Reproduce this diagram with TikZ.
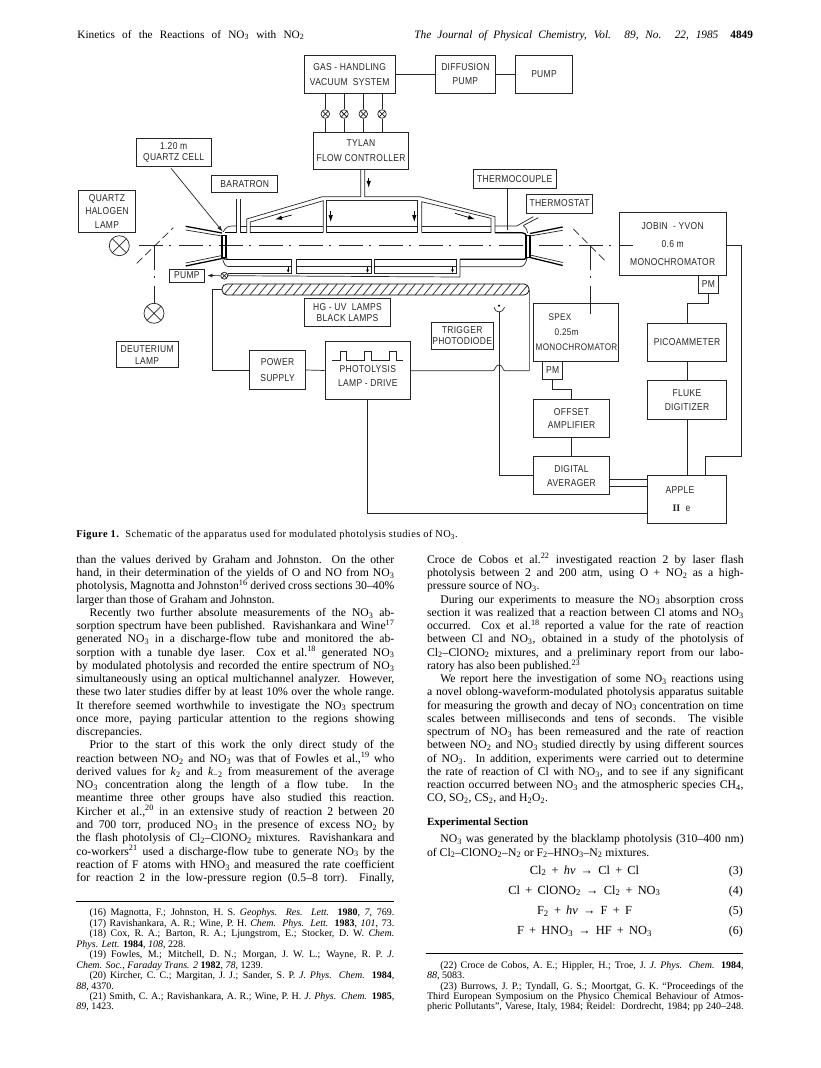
\documentclass[tikz,border=0pt]{standalone}
\usepackage{fontspec}
\setmainfont{Liberation Serif}
\newfontfamily\labelfont[FakeStretch=0.85,LetterSpace=3]{Liberation Sans}
\newfontfamily\capfont[LetterSpace=4]{Liberation Serif}
\RequirePackage{tikz}
\usetikzlibrary{calc,arrows,arrows.meta,positioning}

\newcommand{\bodyfont}{\fontsize{11.7}{13}\selectfont}
\newcommand{\reffont}{\fontsize{10}{10.4}\selectfont}
\newcommand{\headfont}{\fontsize{11.3}{12}\selectfont}
\newcommand{\sbs}[1]{\textsubscript{#1}}
\newcommand{\sps}[1]{\textsuperscript{#1}}
\newcommand{\JL}[1]{\makebox[318pt][s]{#1}}
\newcommand{\JR}[1]{\makebox[316.6pt][s]{#1}}
\newcommand{\ind}{\hspace*{13.3pt}}
\newcommand{\es}{\hspace{0.42em}}

\tikzset{
  labelbox/.style={draw=black!85,text=black!85,inner sep=0pt,align=center,line width=0.25mm,
    font=\labelfont\fontsize{10}{12}\selectfont},
  valve/.style={circle,draw=black!85,inner sep=0pt,line width=0.25mm,
    path picture={\draw (path picture bounding box.north west) -- (path picture bounding box.south east)
      (path picture bounding box.north east) -- (path picture bounding box.south west);}},
  axisline/.style={black!85,line width=0.25mm,dash pattern=on 24pt off 6pt on 2pt off 8pt},
  mirror/.style={black!85,line width=0.25mm,dash pattern=on 8pt off 4pt},
  wire/.style={black!85,line width=0.25mm},
  wallthin/.style={black!85,line width=0.25mm},
  wallthick/.style={black,line width=0.45mm},
  bodyline/.style={anchor=base west,inner sep=0pt,font=\bodyfont},
  refline/.style={anchor=base west,inner sep=0pt,font=\reffont},
  eqline/.style={anchor=base,inner sep=0pt,font=\fontsize{12.4}{13}\selectfont},
  eqnum/.style={anchor=base east,inner sep=0pt,font=\fontsize{12}{13}\selectfont},
}

\begin{document}
\begin{tikzpicture}[x=1pt,y=-1pt,>=latex,line width=0.25mm]
   \useasboundingbox (0,0) rectangle (820,1068);

   % running head
   \node[bodyline,font=\headfont] (headL) at (77,38) {\makebox[227pt][s]{Kinetics of the Reactions of NO\sbs{3} with NO\sbs{2}}};
   \node[bodyline,font=\headfont\itshape] (headR) at (414,38) {\makebox[304pt][s]{The Journal of Physical Chemistry, Vol. 89, No. 22, 1985}};
   \node[bodyline,font=\headfont\bfseries] (headP) at (730,38) {4849};

   % boxes, top
   \node[labelbox,minimum width=90.7,minimum height=38.3] (gas) at (349.65,74.15) {GAS - HANDLING\\[3pt]VACUUM\ \ SYSTEM};
   \node[labelbox,minimum width=60.7,minimum height=38.3] (diffusion) at (465.35,74.15) {DIFFUSION\\[2.3pt]PUMP};
   \node[labelbox,minimum width=56.6,minimum height=38.3] (pumptop) at (544,74.15) {PUMP};
   \node[labelbox,minimum width=95.4,minimum height=37.3] (tylan) at (361,150.65) {TYLAN\\[2.3pt]FLOW CONTROLLER};
   \node[labelbox,minimum width=75.3,minimum height=28.3] (cell) at (173.65,152.15) {1.20 m\\[-1pt]QUARTZ CELL};
   \node[labelbox,minimum width=66,minimum height=17.4] (baratron) at (244.7,184) {BARATRON};
   \node[labelbox,minimum width=57.4,minimum height=41.6] (halogen) at (107,211.5) {QUARTZ\\[1.3pt]HALOGEN\\[1.3pt]LAMP};
   \node[labelbox,minimum width=82.7,minimum height=19.7] (thermocouple) at (514.65,178.85) {THERMOCOUPLE};
   \node[labelbox,minimum width=66.4,minimum height=19] (thermostat) at (559.5,203.5) {THERMOSTAT};
   \node[labelbox,minimum width=107.3,minimum height=62.6] (jobin) at (672.65,244) {JOBIN\ \ -\ YVON\\[6pt]0.6 m\\[6pt]MONOCHROMATOR};
   \node[labelbox,minimum width=19.3,minimum height=18.4] (pmj) at (708.35,284.5) {PM};
   \node[labelbox,minimum width=34.3,minimum height=13] (pumpcell) at (186.85,275.5) {PUMP};

   % boxes, bottom
   \node[labelbox,draw=black,minimum width=307,minimum height=11,rounded corners=5pt] (uvlamp) at (375.5,289.5) {};
   \node[labelbox,minimum width=86.4,minimum height=28] (hgbox) at (347.5,312.7) {HG - UV\ \ LAMPS\\[-0.3pt]BLACK LAMPS};
   \node[labelbox,minimum width=61.7,minimum height=26] (deuterium) at (147.15,354.7) {DEUTERIUM\\LAMP};
   \node[labelbox,minimum width=56.4,minimum height=38.6] (power) at (277.5,370) {POWER\\[3.7pt]SUPPLY};
   \node[labelbox,minimum width=85.7,minimum height=57.6] (drive) at (367.85,370.5) {\mbox{}\\[6pt]PHOTOLYSIS\\[1.6pt]LAMP - DRIVE};
   \node[labelbox,minimum width=61.7,minimum height=27] (trigger) at (462.15,335.8) {TRIGGER\\[-1.3pt]PHOTODIODE};
   \node[labelbox,minimum width=85.4,minimum height=57.6,align=left,font=\labelfont\fontsize{9.6}{12}\selectfont] (spex) at (576,332.5) {\hspace*{14pt}SPEX\\[3pt]\hspace*{20pt}0.25m\\[3pt]\hspace*{1pt}MONOCHROMATOR};
   \node[labelbox,minimum width=20,minimum height=18.4] (pms) at (552.7,370.5) {PM};
   \node[labelbox,minimum width=76.4,minimum height=38.4] (offset) at (571.5,418.5) {OFFSET\\[1.3pt]AMPLIFIER};
   \node[labelbox,minimum width=76.4,minimum height=38] (averager) at (571.5,475.7) {DIGITAL\\[2pt]AVERAGER};
   \node[labelbox,minimum width=78.6,minimum height=38] (pico) at (687,342) {PICOAMMETER};
   \node[labelbox,minimum width=78.6,minimum height=38.6] (fluke) at (687,400) {FLUKE\\[2pt]DIGITIZER};
   \node[labelbox,minimum width=78.6,minimum height=47.6] (apple) at (687,499.5) {APPLE\hspace*{14pt}\\[6pt]{\fontspec{Liberation Serif}\textbf{II}}\ \ e\hspace*{11pt}};

   % lamps and valves
   \node[valve,minimum size=20] (lamphal) at (119.3,245.7) {};
   \node[valve,minimum size=20] (lampdeu) at (154,313.3) {};
   \foreach \nv/\xv in {1/325.3,2/344,3/363.3,4/382}{
      \node[valve,minimum size=8.6] (v\nv) at (\xv,114) {};
      \draw[wire] (gas.south -| v\nv) -- (v\nv);
      \draw[wire] (v\nv) -- (tylan.north -| v\nv);
   }
   \node[valve,minimum size=7] (vpump) at (224.3,275.7) {};

   % optical axis
   \coordinate (axisL) at (139,245.7);
   \coordinate (axisR) at (633,245.7);
   \coordinate (mirL) at (154.3,245.7);
   \coordinate (mirR) at (590.7,245.7);
   \coordinate (spexEnd) at (590.7,314.3);
   \draw[axisline] (axisL) -- (axisR);
   \draw[axisline] (mirL) -- (lampdeu.north -| mirL);
   \draw[axisline] (mirR) -- (spex.north -| mirR);
   \draw[wire] (spex.north -| mirR) -- (spexEnd);
   \draw[mirror] (136.7,263.3) -- (173.3,227.7);
   \draw[mirror] (573.3,229) -- (606,261.7);

   % windows and flares
   \draw[wallthick] (222,235.7) rectangle (226,257.3);
   \draw[wallthick] (526,235.7) rectangle (530,257.3);
   \draw[wallthick] (185.7,226.3) -- (222,233);
   \draw[wallthin] (185.7,230) -- (222,236);
   \draw[wallthick] (185.7,266) -- (222,258.5);
   \draw[wallthin] (185.7,263) -- (222,255.5);
   \draw[wallthick] (530,233.5) -- (562.7,227);
   \draw[wallthin] (530,236) -- (562.7,230.3);
   \draw[wallthick] (530,257.5) -- (562.7,265.5);
   \draw[wallthin] (530,255) -- (562.7,262.5);

   % upper tube
   \coordinate (inletL) at (360.7,196.7);
   \coordinate (inletR) at (364.7,196.7);
   \draw[wallthin] (223,232) .. controls (226,226.5) and (229,226) .. (233,226) -- (236,226);
   \draw[wallthin] (236,199) -- (236,232.7);
   \draw[wallthin] (240.5,199) -- (240.5,232.7);
   \draw[wallthick] (225,232.7) -- (236,232.7);
   \draw[wallthin] (240.5,226) -- (246.7,226);
   \draw[wallthick] (240.5,232.7) -- (246.7,232.7);
   \draw[wallthin] (tylan.south -| inletL) -- (inletL) -- (322.3,196.7) -- (246.7,219) -- (246.7,232.7);
   \draw[wallthin] (tylan.south -| inletR) -- (inletR) -- (420,196.7) -- (495,216.7) -- (495,232.7);
   \draw[wallthin] (250.3,232.7) -- (250.3,222) -- (323.3,200.7) -- (323.3,232.7);
   \draw[wallthin] (326.7,232.7) -- (326.7,200.7) -- (417.3,200.7) -- (417.3,232.7);
   \draw[wallthin] (421.7,232.7) -- (421.7,201.7) -- (491,218.3) -- (491,232.7);
   \foreach \xa/\xb in {250.3/323.3,326.7/417.3,421.7/491}{
      \draw[wallthin] (\xa,226.5) -- (\xb,226.5);
      \draw[wallthick] (\xa,232.7) -- (\xb,232.7);
   }
   \draw[wallthin] (495,226) -- (516.7,226) -- (533.3,216.7);
   \draw[wallthin] (523.3,225.5) -- (538.3,217.7);
   \draw[wallthin] (523.3,225.5) .. controls (525.5,227) and (527,229.5) .. (527.5,233);
   \draw[wallthick] (495,232.7) -- (521.7,232.7) .. controls (524,232.7) and (526,234) .. (526.5,235.7);
   \coordinate (tcEnd) at (507.7,230);
   \draw[wire] (thermocouple.south -| tcEnd) -- (tcEnd);

   % lower tube
   \foreach \xa/\xb in {228/291.7,296/371,374/456}{
      \draw[wallthick] (\xa,259.3) -- (\xb,259.3);
      \draw[wallthin] (\xa,266.7) -- (\xb,266.7);
      \draw[wallthin] (\xb,259.3) -- (\xb,273.5);
      \draw[wallthin] (\xa,273.5) -- (\xb,273.5);
      \draw[-{Latex[length=3.5pt,width=3pt]}] ({\xb-3.5},267) -- ({\xb-3.5},273);
   }
   \foreach \xa in {296,374}{
      \draw[wallthin] (\xa,259.3) -- (\xa,273.5);
   }
   \draw[wallthick] (222.5,257.5) .. controls (223.5,258.8) and (225,259.3) .. (228,259.3);
   \draw[wallthin] (222.5,258) .. controls (223.5,263) and (225,266.7) .. (229,266.7);
   \draw[wallthin] (vpump.east) -- (460,277) -- (460,259.3);
   \draw[wallthin] (vpump.east) -- (228,273.5);
   \draw[wallthick] (460,259.3) -- (524,259.3) -- (527,257.5);
   \draw[wallthin] (460,266.7) -- (520,266.7) .. controls (524,266.7) and (526,263) .. (527,258);
   \draw[wire,-{Latex[length=5pt,width=4pt]},shorten >=3pt] (vpump) -- (pumpcell.east);

   % flow arrows
   \draw[-{Latex[length=7pt,width=4.5pt]}] (368.7,178.3) -- (368.7,187.8);
   \draw[-{Latex[length=7pt,width=4.5pt]}] (330.7,211) -- (330.7,222);
   \draw[-{Latex[length=7pt,width=4.5pt]}] (414.3,211) -- (414.3,222);
   \draw[-{Latex[length=7pt,width=4.5pt]}] (291.7,215) -- (275,219.5);
   \draw[-{Latex[length=7pt,width=4.5pt]}] (455,213.3) -- (475,219.3);

   % hatched lamp
   \begin{scope}
      \clip[rounded corners=5pt] (uvlamp.south west) rectangle (uvlamp.north east);
      \foreach \xh in {215,223.7,...,535}{
         \draw[black!85] (\xh,295) -- ({\xh+9},284);
      }
   \end{scope}

   % top wires
   \draw[wire] (gas.east) -- (diffusion.west);
   \draw[wire] (diffusion.east) -- (pumptop.west);

   % leader
   \coordinate (cellTip) at (222.7,231.7);
   \coordinate (cellStart) at (171,168.3);
   \draw[wire,-{Latex[length=6pt,width=4pt]}] (cellStart) -- (cellTip);

   % lamp supply
   \coordinate (wireA) at (212.7,289.5);
   \coordinate (humpL) at (492.7,370.7);
   \coordinate (humpR) at (504.7,370.7);
   \draw[wire] (uvlamp.west) -- (wireA) |- (power.west);
   \draw[wire] (power.east) -- (drive.west);
   \draw[wire] (drive.east |- humpL) -- (humpL) .. controls (495.5,370.7) and (495,365) .. (499,365) .. controls (503,365) and (502.5,370.7) .. (humpR) -| (uvlamp.east);

   % pulse shape
   \draw[wire] (332.3,360.7) -- (340,360.7) -- (340,351) -- (346.7,351) -- (346.7,360.7) -- (364,360.7)
      -- (364,351) -- (371.7,351) -- (371.7,360.7) -- (389,360.7) -- (389,351) -- (396.7,351) -- (396.7,360.7) -- (403.3,360.7);

   % photodiode
   \node[circle,fill=black,inner sep=0pt,minimum size=2.4] (diode) at (499,305.7) {};
   \coordinate (diodeFoot) at (499,311.8);
   \draw[wire] (494,307.3) .. controls (495,313.5) and (503,313.5) .. (504.5,307.3);
   \draw[wire] (diodeFoot) |- (averager.west);

   % detection chain
   \coordinate (elbowS) at (571.5,389.3);
   \coordinate (elbowP) at (708.35,303.7);
   \coordinate (retn) at (741.3,456.7);
   \coordinate (retnB) at (705.3,456.7);
   \coordinate (busA) at (628,479.3);
   \coordinate (busB) at (628,486.7);
   \coordinate (busC) at (500,513.7);
   \draw[wire] (pms.south) |- (elbowS) -- (offset.north);
   \draw[wire] (offset.south) -- (averager.north);
   \draw[wire] (averager.east |- busA) -- (apple.west |- busA);
   \draw[wire] (averager.east |- busB) -- (apple.west |- busB);
   \draw[wire] (pmj.south) -- (elbowP) -| (pico.north);
   \draw[wire] (pico.south) -- (fluke.north);
   \draw[wire] (fluke.south) -- (apple.north);
   \draw[wire] (jobin.east |- axisR) -| (retn) -- (retnB) -- (apple.north -| retnB);
   \draw[wire] (drive.south) |- (apple.west |- busC);

   % caption
   \node[refline,font=\capfont\fontsize{10.4}{12}\selectfont] (caption) at (76,537.5) {\textbf{Figure 1.}\ \ Schematic of the apparatus used for modulated photolysis studies of NO\sbs{3}.};

   % left column
   \foreach \nl/\tl in {
      0/{\JL{than the values derived by Graham and Johnston.\ \ On the other}},
      1/{\JL{hand, in their determination of the yields of O and NO from NO\sbs{3}}},
      2/{\JL{photolysis, Magnotta and Johnston\sps{16} derived cross sections 30–40\%}},
      3/{larger than those of Graham and Johnston.},
      4/{\JL{\ind Recently two further absolute measurements of the NO\sbs{3} ab-}},
      5/{\JL{sorption spectrum have been published.\ \ Ravishankara and Wine\sps{17}}},
      6/{\JL{generated NO\sbs{3} in a discharge-flow tube and monitored the ab-}},
      7/{\JL{sorption with a tunable dye laser.\ \ Cox et al.\sps{18} generated NO\sbs{3}}},
      8/{\JL{by modulated photolysis and recorded the entire spectrum of NO\sbs{3}}},
      9/{\JL{simultaneously using an optical multichannel analyzer.\ \ However,}},
      10/{\JL{these two later studies differ by at least 10\% over the whole range.}},
      11/{\JL{It therefore seemed worthwhile to investigate the NO\sbs{3} spectrum}},
      12/{\JL{once more, paying particular attention to the regions showing}},
      13/{discrepancies.},
      14/{\JL{\ind Prior to the start of this work the only direct study of the}},
      15/{\JL{reaction between NO\sbs{2} and NO\sbs{3} was that of Fowles et al.,\sps{19} who}},
      16/{\JL{derived values for \emph{k}\sbs{2} and \emph{k}\sbs{−2} from measurement of the average}},
      17/{\JL{NO\sbs{3} concentration along the length of a flow tube.\ \ In the}},
      18/{\JL{meantime three other groups have also studied this reaction.}},
      19/{\JL{Kircher et al.,\sps{20} in an extensive study of reaction 2 between 20}},
      20/{\JL{and 700 torr, produced NO\sbs{3} in the presence of excess NO\sbs{2} by}},
      21/{\JL{the flash photolysis of Cl\sbs{2}–ClONO\sbs{2} mixtures.\ \ Ravishankara and}},
      22/{\JL{co-workers\sps{21} used a discharge-flow tube to generate NO\sbs{3} by the}},
      23/{\JL{reaction of F atoms with HNO\sbs{3} and measured the rate coefficient}},
      24/{\JL{for reaction 2 in the low-pressure region (0.5–8 torr).\ \ Finally,}}}{
      \node[bodyline] (lcol\nl) at (76,{563.3+13.26*\nl}) {\tl};
   }

   % right column
   \foreach \nl/\tl in {
      0/{\JR{Croce de Cobos et al.\sps{22} investigated reaction 2 by laser flash}},
      1/{\JR{photolysis between 2 and 200 atm, using O + NO\sbs{2} as a high-}},
      2/{pressure source of NO\sbs{3}.},
      3/{\JR{\ind During our experiments to measure the NO\sbs{3} absorption cross}},
      4/{\JR{section it was realized that a reaction between Cl atoms and NO\sbs{3}}},
      5/{\JR{occurred.\ \ Cox et al.\sps{18} reported a value for the rate of reaction}},
      6/{\JR{between Cl and NO\sbs{3}, obtained in a study of the photolysis of}},
      7/{\JR{Cl\sbs{2}–ClONO\sbs{2} mixtures, and a preliminary report from our labo-}},
      8/{ratory has also been published.\sps{23}},
      9/{\JR{\ind We report here the investigation of some NO\sbs{3} reactions using}},
      10/{\JR{a novel oblong-waveform-modulated photolysis apparatus suitable}},
      11/{\JR{for measuring the growth and decay of NO\sbs{3} concentration on time}},
      12/{\JR{scales between milliseconds and tens of seconds.\ \ The visible}},
      13/{\JR{spectrum of NO\sbs{3} has been remeasured and the rate of reaction}},
      14/{\JR{between NO\sbs{2} and NO\sbs{3} studied directly by using different sources}},
      15/{\JR{of NO\sbs{3}.\ \ In addition, experiments were carried out to determine}},
      16/{\JR{the rate of reaction of Cl with NO\sbs{3}, and to see if any significant}},
      17/{\JR{reaction occurred between NO\sbs{3} and the atmospheric species CH\sbs{4},}},
      18/{CO, SO\sbs{2}, CS\sbs{2}, and H\sbs{2}O\sbs{2}.}}{
      \node[bodyline] (rcol\nl) at (426.7,{563.3+13.26*\nl}) {\tl};
   }
   \node[bodyline,font=\fontsize{11}{12}\selectfont\bfseries] (secthead) at (426.7,825) {Experimental Section};
   \node[bodyline] (intro1) at (426.7,842.6) {\JR{\ind NO\sbs{3} was generated by the blacklamp photolysis (310–400 nm)}};
   \node[bodyline] (intro2) at (426.7,856) {of Cl\sbs{2}–ClONO\sbs{2}–N\sbs{2} or F\sbs{2}–HNO\sbs{3}–N\sbs{2} mixtures.};

   % equations
   \foreach \nq/\yq/\tq in {
      3/874/{Cl\sbs{2}\es+\es\emph{hν}\es→\es Cl\es+\es Cl},
      4/894/{Cl\es+\es ClONO\sbs{2}\es→\es Cl\sbs{2}\es+\es NO\sbs{3}},
      5/914.3/{F\sbs{2}\es+\es\emph{hν}\es→\es F\es+\es F},
      6/934.5/{F\es+\es HNO\sbs{3}\es→\es HF\es+\es NO\sbs{3}}}{
      \node[eqline] (eq\nq) at (584.5,\yq) {\tq};
      \node[eqnum] (eqn\nq) at (743.3,\yq) {(\nq)};
   }

   % footnote rules
   \coordinate (ruleLa) at (76,901.3);
   \coordinate (ruleLb) at (394,901.3);
   \coordinate (ruleRa) at (425.7,953.3);
   \coordinate (ruleRb) at (743.3,953.3);
   \draw[line width=0.35mm] (ruleLa) -- (ruleLb);
   \draw[line width=0.35mm] (ruleRa) -- (ruleRb);

   % references
   \foreach \nl/\yl/\tl in {
      16/915.7/{\JL{\ind (16) Magnotta, F.; Johnston, H. S. \emph{Geophys. Res. Lett.} \textbf{1980}, \emph{7}, 769.}},
      17/926.3/{\JL{\ind (17) Ravishankara, A. R.; Wine, P. H. \emph{Chem. Phys. Lett.} \textbf{1983}, \emph{101}, 73.}},
      18/936.7/{\JL{\ind (18) Cox, R. A.; Barton, R. A.; Ljungstrom, E.; Stocker, D. W. \emph{Chem.}}},
      181/947/{\emph{Phys. Lett.} \textbf{1984}, \emph{108}, 228.},
      19/957.7/{\JL{\ind (19) Fowles, M.; Mitchell, D. N.; Morgan, J. W. L.; Wayne, R. P. \emph{J.}}},
      191/968/{\emph{Chem. Soc., Faraday Trans. 2} \textbf{1982}, \emph{78}, 1239.},
      20/978.7/{\JL{\ind (20) Kircher, C. C.; Margitan, J. J.; Sander, S. P. \emph{J. Phys. Chem.} \textbf{1984},}},
      201/989/{\emph{88}, 4370.},
      21/999.3/{\JL{\ind (21) Smith, C. A.; Ravishankara, A. R.; Wine, P. H. \emph{J. Phys. Chem.} \textbf{1985},}},
      211/1009.7/{\emph{89}, 1423.}}{
      \node[refline] (ref\nl) at (76,\yl) {\tl};
   }
   \foreach \nl/\yl/\tl in {
      22/968/{\JR{\ind (22) Croce de Cobos, A. E.; Hippler, H.; Troe, J. \emph{J. Phys. Chem.} \textbf{1984},}},
      221/978.3/{\emph{88}, 5083.},
      23/989/{\JR{\ind (23) Burrows, J. P.; Tyndall, G. S.; Moortgat, G. K. “Proceedings of the}},
      231/999.3/{\JR{Third European Symposium on the Physico Chemical Behaviour of Atmos-}},
      232/1009.7/{\JR{pheric Pollutants”, Varese, Italy, 1984; Reidel:\ \ Dordrecht, 1984; pp 240–248.}}}{
      \node[refline] (ref\nl) at (426.7,\yl) {\tl};
   }

\end{tikzpicture}
\end{document}
